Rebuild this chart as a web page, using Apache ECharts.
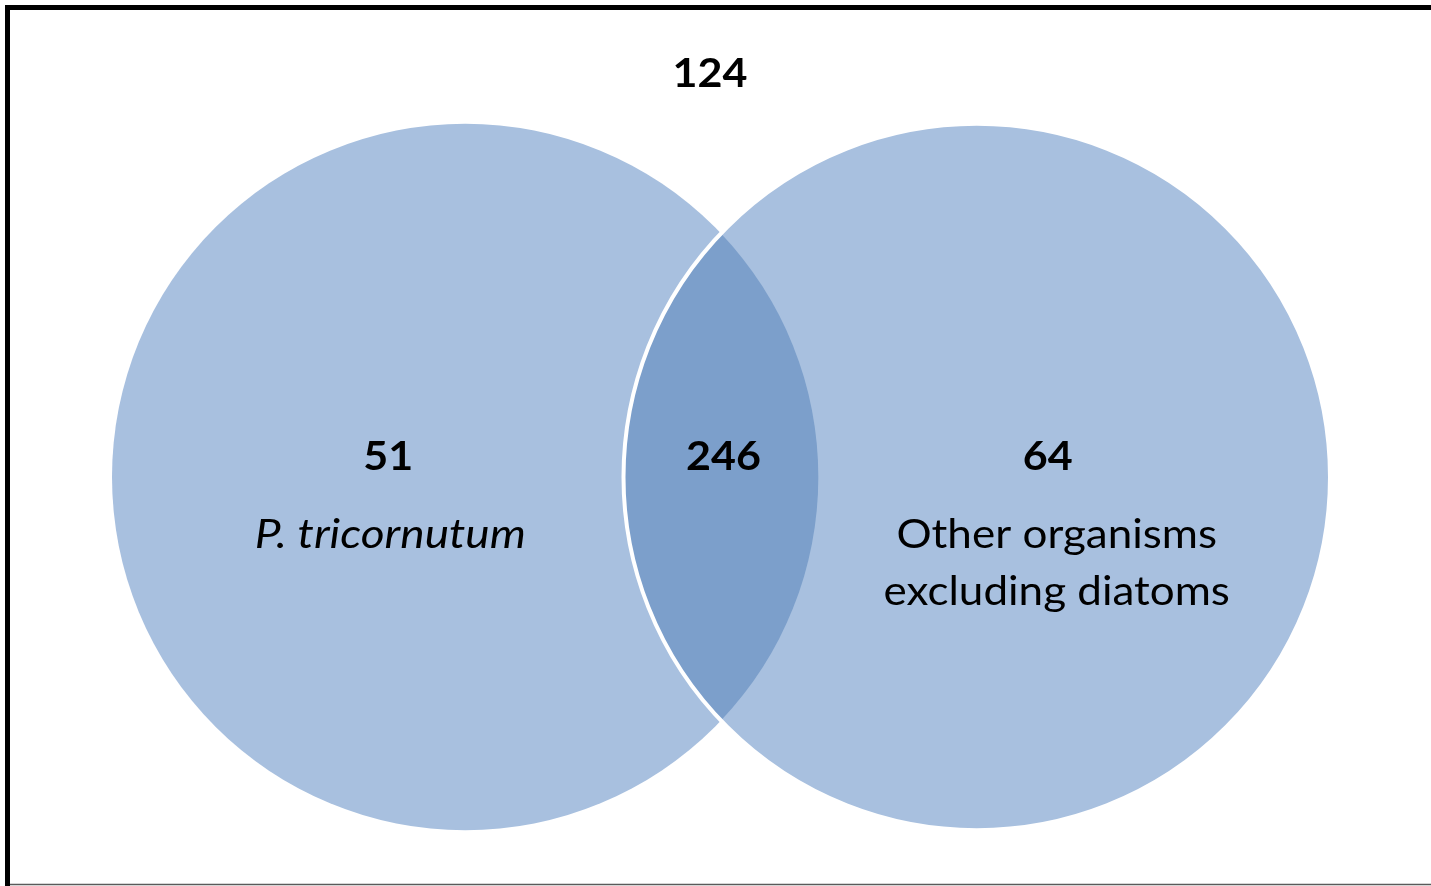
<!DOCTYPE html>
<html>
<head>
<meta charset="utf-8">
<script src="https://cdn.jsdelivr.net/npm/echarts@6/dist/echarts.min.js"></script>
<style>
  html, body { margin: 0; padding: 0; background: #fff; }
  #chart { width: 1431px; height: 886px; }
</style>
</head>
<body>
<div id="chart"></div>
<script>
// venn sets (units = circle radius)
const setNames = ['P. tricornutum', 'Other organisms\nexcluding diatoms']
const setCenterX = [-0.724, 0.724]
const setRadius = [1, 1]
const onlyCounts = [51, 64]
const sharedCount = 246
const outsideCount = 124

const lightFill = '#a8c0df'
const darkFill = '#7c9fcb'
const font = 'Lato'
const numFont = 'bold 41px ' + font

const chart = echarts.init(document.getElementById('chart'), null, { renderer: 'canvas' })

const circleData = setNames.map((n, i) => [setCenterX[i], 0, setRadius[i], onlyCounts[i], n])

function textEl(x, y, text, opts) {
  return {
    type: 'text',
    x: x,
    y: y,
    scaleX: opts.stretch || 1,
    z2: 10,
    style: {
      text: text,
      fill: '#000',
      font: opts.font,
      lineHeight: opts.lineHeight,
      align: 'center',
      verticalAlign: 'middle'
    }
  }
}

function renderCircle(params, api) {
  const c = api.coord([api.value(0), api.value(1)])
  const r = api.size([api.value(2), api.value(2)])[0]
  const i = params.dataIndex
  const children = [{
    type: 'circle',
    shape: { cx: c[0], cy: c[1], r: r },
    style: { fill: lightFill }
  }]
  // label offsets from the circle centre
  const dx = i === 0 ? -77 : 71
  const nameDx = i === 0 ? -75 : 80
  children.push(textEl(c[0] + dx, c[1] - 20, String(api.value(3)), { font: numFont, stretch: 1.05 }))
  children.push(textEl(c[0] + nameDx, c[1] + (i === 0 ? 58 : 87), setNames[i], {
    font: (i === 0 ? 'italic ' : '') + '40px ' + font,
    lineHeight: 57,
    stretch: i === 0 ? 1.15 : 1.1
  }))
  return { type: 'group', children: children }
}

function renderLens(params, api) {
  const x1 = setCenterX[0], x2 = setCenterX[1]
  const r1 = setRadius[0], r2 = setRadius[1]
  const d = x2 - x1
  const a = (r1 * r1 - r2 * r2 + d * d) / (2 * d)
  const h = Math.sqrt(r1 * r1 - a * a)
  const top = api.coord([x1 + a, h])
  const bot = api.coord([x1 + a, -h])
  const pr1 = api.size([r1, r1])[0]
  const pr2 = api.size([r2, r2])[0]
  const c2 = api.coord([x2, 0])
  const pathData = 'M' + top[0] + ' ' + top[1] +
    ' A' + pr1 + ' ' + pr1 + ' 0 0 1 ' + bot[0] + ' ' + bot[1] +
    ' A' + pr2 + ' ' + pr2 + ' 0 0 1 ' + top[0] + ' ' + top[1] + ' Z'
  const mid = api.coord([(x1 + x2) / 2, 0])
  const topMid = api.coord([(x1 + x2) / 2, 1])
  return {
    type: 'group',
    children: [
      { type: 'path', shape: { pathData: pathData }, style: { fill: darkFill } },
      // white outline of the second circle over the lens edge
      { type: 'circle', shape: { cx: c2[0], cy: c2[1], r: pr2 }, style: { fill: null, stroke: '#fff', lineWidth: 4 } },
      textEl(mid[0] + 2.5, mid[1] - 20, String(sharedCount), { font: numFont, stretch: 1.05 }),
      textEl(topMid[0] - 11, topMid[1] - 50, String(outsideCount), { font: numFont, stretch: 1.05 })
    ]
  }
}

const option = {
  animation: false,
  backgroundColor: '#fff',
  grid: { left: 112, right: 101, top: 124, bottom: 56 },
  xAxis: { type: 'value', min: -1.724, max: 1.724, show: false },
  yAxis: { type: 'value', min: -1, max: 1, show: false },
  graphic: [
    {
      type: 'polyline',
      shape: { points: [[7.5, 886], [7.5, 7.5], [1431, 7.5]] },
      style: { stroke: '#000', lineWidth: 5, fill: null },
      z: 100
    },
    {
      type: 'line',
      shape: { x1: 10, y1: 884.5, x2: 1431, y2: 884.5 },
      style: { stroke: '#5a5a5a', lineWidth: 1.5 },
      z: 100
    }
  ],
  series: [
    {
      type: 'custom',
      renderItem: renderCircle,
      data: circleData,
      silent: true,
      z: 1
    },
    {
      type: 'custom',
      renderItem: renderLens,
      data: [[0, 0]],
      silent: true,
      z: 2
    }
  ]
}

chart.setOption(option)
</script>
</body>
</html>
